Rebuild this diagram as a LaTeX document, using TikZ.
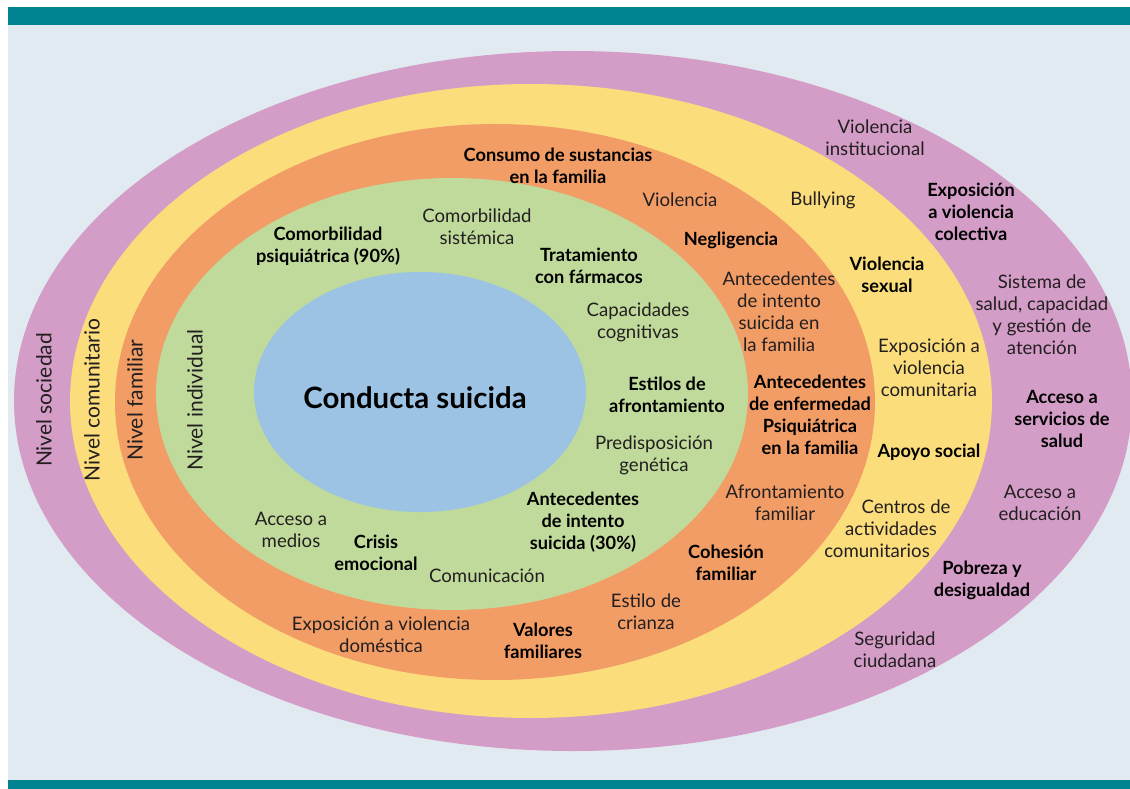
\documentclass[tikz,border=0pt]{standalone}
\usepackage{fontspec}
\setmainfont{Lato}
\usepackage{xcolor}
\usepackage{tikz}
\definecolor{barteal}{RGB}{0,131,144}
\definecolor{bgblue}{RGB}{225,234,240}
\definecolor{ringpurple}{RGB}{211,157,199}
\definecolor{ringyellow}{RGB}{251,221,124}
\definecolor{ringorange}{RGB}{242,157,102}
\definecolor{ringgreen}{RGB}{192,218,155}
\definecolor{coreblue}{RGB}{156,194,228}
\definecolor{txtgray}{RGB}{35,31,32}
\tikzset{
	factor/.style={align=center,inner sep=0pt,text=txtgray,font=\fontsize{18.6}{22}\selectfont},
	key factor/.style={factor,text=black,font=\fontsize{18.2}{22}\selectfont\bfseries},
	level/.style={rotate=90,inner sep=0pt,text=txtgray,font=\fontsize{21}{24}\selectfont},
	ring/.style={draw=none}
}

\begin{document}
\begin{tikzpicture}[x=1pt,y=-1pt]
	\useasboundingbox (0,0) rectangle (1130,789);
	\fill[white] (0,0) rectangle (1130,789);
	\fill[bgblue] (8,25) rectangle (1130,780);
	\fill[barteal] (8,7) rectangle (1130,25);
	\fill[barteal] (8,780) rectangle (1130,789);
	% rings, outer to inner
	\fill[ring,ringpurple] (573,401) ellipse [x radius=559pt, y radius=350pt];
	\fill[ring,ringyellow] (531,401) ellipse [x radius=461pt, y radius=317pt];
	\fill[ring,ringorange] (495,402) ellipse [x radius=380pt, y radius=278pt];
	\fill[ring,ringgreen] (452,394) ellipse [x radius=296pt, y radius=216pt];
	\fill[ring,coreblue] (420,392) ellipse [x radius=166pt, y radius=120pt];
	\node[key factor,font=\fontsize{29.4}{34}\selectfont\bfseries] (core) at (415,398) {Conducta suicida};

	% level labels
	\node[level] (lvlSoc) at (44,400) {Nivel sociedad};
	\node[level] (lvlCom) at (92,400) {Nivel comunitario};
	\node[level] (lvlFam) at (135,400) {Nivel familiar};
	\node[level] (lvlInd) at (195,400) {Nivel individual};

	% sociedad
	\node[factor] (s1) at (875,138) {Violencia\\institucional};
	\node[key factor] (s2) at (971,212) {Exposición\\a violencia\\colectiva};
	\node[factor] (s3) at (1042,315) {Sistema de\\salud, capacidad\\y gestión de\\atención};
	\node[key factor] (s4) at (1062,419) {Acceso a\\servicios de\\salud};
	\node[factor] (s5) at (1040,503) {Acceso a\\educación};
	\node[key factor] (s6) at (982,580) {Pobreza y\\desigualdad};
	\node[factor] (s7) at (895,650) {Seguridad\\ciudadana};

	% comunitario
	\node[factor] (c1) at (823,200) {Bullying};
	\node[key factor] (c2) at (887,275) {Violencia\\sexual};
	\node[factor] (c3) at (929,368) {Exposición a\\violencia\\comunitaria};
	\node[key factor] (c4) at (929,452) {Apoyo social};
	\node[factor] (c5) at (891,529) {\hspace*{30pt}Centros de\\actividades\\comunitarios\hspace*{28pt}};

	% familiar
	\node[key factor] (f1) at (558,166) {Consumo de sustancias\\en la familia};
	\node[factor] (f2) at (680,200) {Violencia};
	\node[key factor] (f3) at (731,240) {Negligencia};
	\node[factor] (f4) at (779,312) {Antecedentes\\de intento\\suicida en\\la familia};
	\node[key factor] (f5) at (810,415) {Antecedentes\\de enfermedad\\Psiquiátrica\\en la familia};
	\node[factor] (f6) at (785,503) {Afrontamiento\\familiar};
	\node[key factor] (f7) at (726,563) {Cohesión\\familiar};
	\node[factor] (f8) at (646,612) {Estilo de\\crianza};
	\node[key factor] (f9) at (543,641) {Valores\\familiares};
	\node[factor] (f10) at (381,635) {Exposición a violencia\\doméstica};

	% individual
	\node[key factor] (i1) at (328,246) {Comorbilidad\\psiquiátrica (90\%)};
	\node[factor] (i2) at (477,227) {Comorbilidad\\sistémica};
	\node[key factor] (i3) at (589,266) {Tratamiento\\con fármacos};
	\node[factor] (i4) at (638,322) {Capacidades\\cognitivas};
	\node[key factor] (i5) at (667,395) {Estilos de\\afrontamiento};
	\node[factor] (i6) at (654,455) {Predisposición\\genética};
	\node[key factor] (i7) at (583,522) {Antecedentes\\de intento\\suicida (30\%)};
	\node[factor] (i8) at (291,530) {Acceso a\\medios};
	\node[key factor] (i9) at (376,553) {Crisis\\emocional};
	\node[factor] (i10) at (487,576) {Comunicación};
\end{tikzpicture}
\end{document}
